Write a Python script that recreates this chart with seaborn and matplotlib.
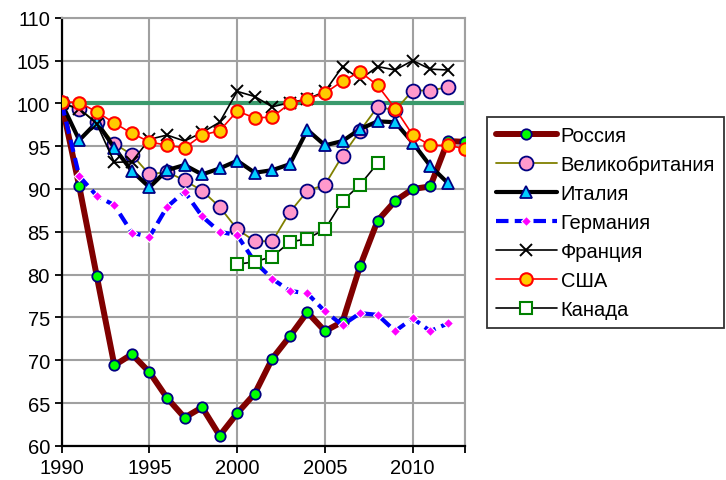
import matplotlib
matplotlib.use("Agg")
import matplotlib.pyplot as plt
import pandas as pd
import seaborn as sns

sns.set_style("white")
plt.rcParams['font.family'] = ['Liberation Sans', 'DejaVu Sans']

years = list(range(1990, 2014))

russia = [100, 90.3, 79.8, 69.4, 70.7, 68.6, 65.6, 63.3, 64.5, 61.2, 63.8, 66.1,
          70.2, 72.8, 75.6, 73.4, 74.5, 81.0, 86.3, 88.6, 90.0, 90.3, 95.6, 95.5]
uk = [100, 99.3, 97.8, 95.3, 94.0, 91.7, 92.0, 91.0, 89.8, 87.9, 85.3, 83.9,
      83.9, 87.3, 89.8, 90.5, 93.9, 96.8, 99.6, 99.2, 101.5, 101.5, 101.9]
italy = [100, 95.7, 97.8, 94.8, 92.1, 90.2, 92.2, 92.8, 91.7, 92.4, 93.3, 91.9,
         92.2, 92.9, 96.9, 95.1, 95.6, 97.0, 97.9, 97.8, 95.4, 92.7, 90.7]
germany = [100, 91.5, 89.2, 88.1, 84.9, 84.4, 87.9, 89.7, 86.8, 85.0, 84.6, 81.5,
           79.5, 78.1, 77.8, 75.7, 74.1, 75.5, 75.3, 73.4, 74.9, 73.4, 74.3]
france = [100, 99.4, 97.6, 93.1, 93.2, 95.8, 96.3, 95.6, 96.6, 97.8, 101.4, 100.8,
          99.6, 100.1, 100.5, 101.4, 104.3, 102.8, 104.3, 103.9, 105.0, 104.0, 103.9]
usa = [100.2, 100.1, 99.0, 97.7, 96.5, 95.5, 95.1, 94.8, 96.3, 96.8, 99.1, 98.3,
       98.4, 100.0, 100.5, 101.2, 102.6, 103.7, 102.1, 99.4, 96.3, 95.1, 95.1, 94.7]
canada_years = list(range(2000, 2009))
canada = [81.2, 81.5, 82.1, 83.8, 84.2, 85.3, 88.6, 90.5, 93.0]

base_years = [1991, 2013]
base = [100, 100]

fig, ax = plt.subplots(figsize=(7.26, 4.81), dpi=100)
fig.subplots_adjust(left=0.085, right=0.641, top=0.961, bottom=0.071)

# 100% reference line
sns.lineplot(x=base_years, y=base, ax=ax, color='#3a9a6c', lw=3, zorder=2)

series = [
    ('Россия', years, russia, dict(color='#800000', lw=4.3, marker='o', ms=7.5,
                                    mfc='#00ff00', mec='#000080', mew=1.3)),
    ('Великобритания', years[:23], uk, dict(color='#808000', lw=1.3, marker='o', ms=10,
                                            mfc='#ff99cc', mec='#000080', mew=1.3)),
    ('Италия', years[:23], italy, dict(color='black', lw=3, marker='^', ms=9,
                                       mfc='#00ccff', mec='#000080', mew=1.3)),
    ('Германия', years[:23], germany, dict(color='#0000ff', lw=3, linestyle=(0, (3, 1.5)),
                                           marker='D', ms=5, mfc='#ff00ff', mec='white', mew=0.8)),
    ('Франция', years[:23], france, dict(color='black', lw=1.2, marker='x', ms=9,
                                         mec='black', mew=1.4)),
    ('США', years, usa, dict(color='#ff0000', lw=1.2, marker='o', ms=9,
                             mfc='#ffcc00', mec='#ff0000', mew=1.5)),
    ('Канада', canada_years, canada, dict(color='black', lw=1.2, marker='s', ms=8,
                                          mfc='white', mec='#008000', mew=1.5)),
]

for i, (name, xs, ys, style) in enumerate(series):
    sns.lineplot(x=xs, y=ys, ax=ax, label=name, zorder=3 + i, **style)

ax.set_xlim(1990, 2013)
ax.set_ylim(60, 110)
ax.set_yticks(range(60, 111, 5))
ax.set_xticks([1990, 1995, 2000, 2005, 2010, 2013])
ax.set_xticklabels(['1990', '1995', '2000', '2005', '2010', ''])
ax.tick_params(axis='both', labelsize=14.5, labelcolor='black', direction='out',
               length=5, width=1.3, color='black', bottom=True, left=True)
ax.grid(True, color='#a0a0a0', lw=1.5)
ax.set_axisbelow(True)
for side in ['left', 'bottom']:
    ax.spines[side].set_color('black')
    ax.spines[side].set_linewidth(1.6)
for side in ['top', 'right']:
    ax.spines[side].set_color('#a0a0a0')
    ax.spines[side].set_linewidth(1.5)
ax.set_xlabel('')
ax.set_ylabel('')

handles, labels = ax.get_legend_handles_labels()
leg = ax.legend(handles, labels, loc='upper left', bbox_to_anchor=(0.671, 0.755),
                bbox_transform=fig.transFigure, fontsize=14.5, frameon=True,
                fancybox=False, edgecolor='black', handlelength=3.0,
                handletextpad=0.2, labelspacing=0.5, borderpad=0.45,
                borderaxespad=0)
leg.get_frame().set_linewidth(1.3)
for t in leg.get_texts():
    t.set_color('black')

plt.savefig('out.png', dpi=100)
